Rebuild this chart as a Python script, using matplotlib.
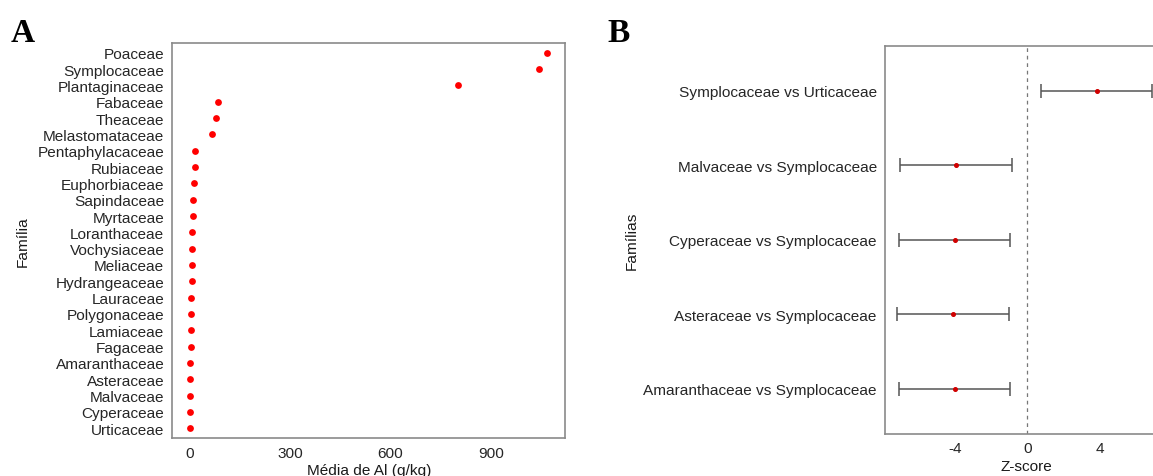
import matplotlib
matplotlib.use("Agg")
import matplotlib.pyplot as plt
import numpy as np

plt.rcParams['font.family'] = ['Liberation Sans', 'DejaVu Sans']
plt.rcParams['axes.unicode_minus'] = False

# ---- Panel A data ----
families = ["Poaceae", "Symplocaceae", "Plantaginaceae", "Fabaceae", "Theaceae",
            "Melastomataceae", "Pentaphylacaceae", "Rubiaceae", "Euphorbiaceae",
            "Sapindaceae", "Myrtaceae", "Loranthaceae", "Vochysiaceae", "Meliaceae",
            "Hydrangeaceae", "Lauraceae", "Polygonaceae", "Lamiaceae", "Fagaceae",
            "Amaranthaceae", "Asteraceae", "Malvaceae", "Cyperaceae", "Urticaceae"]
al_mean = [1068, 1043, 802, 84, 78, 67, 16.5, 15.4, 12.1, 11, 9.9, 8.8, 8.8, 6.6,
           6.6, 5.5, 3.3, 3.3, 3.3, 2.2, 2.2, 2.2, 2.2, 1.1]
xticks_a = [0, 300, 600, 900]

# ---- Panel B data ----
comparisons = ["Symplocaceae vs Urticaceae", "Malvaceae vs Symplocaceae",
               "Cyperaceae vs Symplocaceae", "Asteraceae vs Symplocaceae",
               "Amaranthaceae vs Symplocaceae"]
zscore = [3.83, -3.95, -4.01, -4.08, -4.01]
ci_low = [0.76, -7.03, -7.10, -7.17, -7.10]
ci_high = [6.90, -0.86, -0.93, -1.00, -0.93]
xticks_b = [-4, 0, 4]

W, H = 1153, 477
fig = plt.figure(figsize=(W / 100, H / 100), dpi=100)

def px_axes(left, right, top, bottom):
    return fig.add_axes([left / W, 1 - bottom / H, (right - left) / W, (bottom - top) / H])

text_col = "#262626"
title_col = "#1a1a1a"
edge_col = "#8a8a8a"
fs = 11.1

def style(ax):
    for s in ax.spines.values():
        s.set_color(edge_col)
        s.set_linewidth(1.2)
    ax.tick_params(length=0, pad=5.5, labelsize=fs, labelcolor=text_col)

# Panel A
axA = px_axes(172, 565, 44, 439)
n = len(families)
ya = np.arange(n)[::-1]
axA.scatter(al_mean, ya, s=24, color="#ff0000", zorder=3, linewidths=0)
lo, hi = min(al_mean), max(al_mean)
pad = 0.05 * (hi - lo)
axA.set_xlim(lo - pad, hi + pad)
axA.set_ylim(-0.6, n - 0.4)
axA.set_yticks(ya)
axA.set_yticklabels(families)
axA.set_xticks(xticks_a)
style(axA)
fig.text(369 / W, 1 - 471 / H, "Média de Al (g/kg)", ha="center", va="center", fontsize=fs, color=title_col)
fig.text(23 / W, 1 - 241.5 / H, "Família", ha="center", va="center", rotation=90, fontsize=fs, color=title_col)

# Panel B
axB = px_axes(884.5, 1165, 47, 434.7)
m = len(comparisons)
yb = np.arange(m)[::-1]
zs = np.array(zscore)
err = [zs - np.array(ci_low), np.array(ci_high) - zs]
axB.errorbar(zscore, yb, xerr=err, fmt="none", ecolor="#555555", elinewidth=1.1,
             capsize=5.3, capthick=1.1, zorder=2)
axB.plot(zscore, yb, "o", color="#d00000", markersize=2.6, zorder=3)
axB.axvline(0, color="#777777", linestyle=(0, (3, 3)), linewidth=0.9, zorder=1)
lo, hi = min(ci_low), max(ci_high)
pad = 0.05 * (hi - lo)
axB.set_xlim(lo - pad, hi + pad)
axB.set_ylim(-0.6, m - 0.4)
axB.set_yticks(yb)
axB.set_yticklabels(comparisons)
axB.set_xticks(xticks_b)
style(axB)
fig.text(1026 / W, 1 - 466.7 / H, "Z-score", ha="center", va="center", fontsize=fs, color=title_col)
fig.text(632 / W, 1 - 241 / H, "Famílias", ha="center", va="center", rotation=90, fontsize=fs, color=title_col)

# Panel letters
fig.text(11 / W, 1 - 42 / H, "A", fontsize=24, fontweight="bold", family="Liberation Serif",
         ha="left", va="baseline")
fig.text(607 / W, 1 - 42 / H, "B", fontsize=24, fontweight="bold", family="Liberation Serif",
         ha="left", va="baseline")

fig.savefig("out.png", dpi=100)
